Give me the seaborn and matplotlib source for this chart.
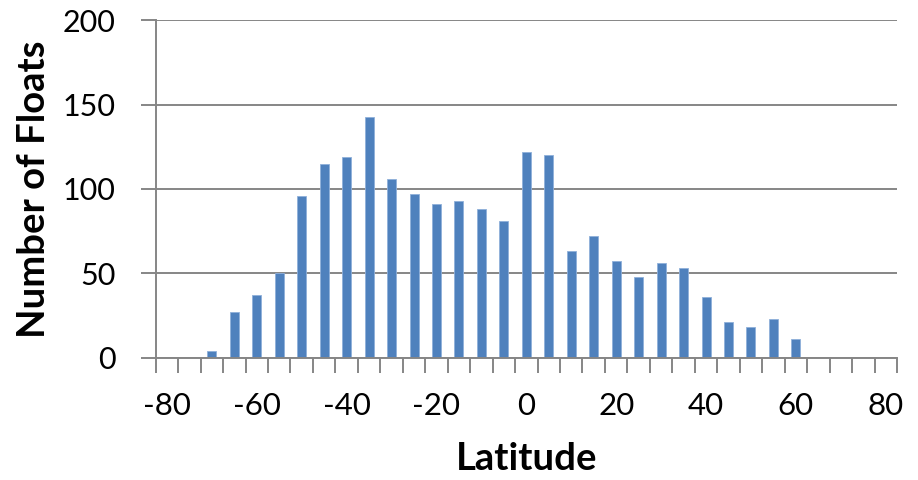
import matplotlib
matplotlib.use("Agg")
import matplotlib.pyplot as plt
import seaborn as sns
import pandas as pd

# Data
latitudes = [-80, -75, -70, -65, -60, -55, -50, -45, -40, -35, -30, -25, -20, -15, -10, -5,
             0, 5, 10, 15, 20, 25, 30, 35, 40, 45, 50, 55, 60, 65, 70, 75, 80]
counts = [0, 0, 4, 27, 37, 50, 96, 115, 119, 143, 106, 97, 91, 93, 88, 81,
          122, 120, 63, 72, 57, 48, 56, 53, 36, 21, 18, 23, 11, 0, 0, 0, 0]
shown_labels = [-80, -60, -40, -20, 0, 20, 40, 60, 80]
y_ticks = [0, 50, 100, 150, 200]

sns.set_theme(style="white")
plt.rcParams['font.family'] = ['Lato', 'DejaVu Sans']

df = pd.DataFrame({"Latitude": [str(v) for v in latitudes], "Count": counts})
order = [str(v) for v in latitudes]

fig = plt.figure(figsize=(9.18, 4.8), dpi=100)
ax = fig.add_axes([0.1696, 0.2552, 0.9771 - 0.1696, 0.9573 - 0.2552])

sns.barplot(data=df, x="Latitude", y="Count", order=order, color="#4F81BD",
            width=0.4, edgecolor="#8FB0DA", linewidth=0.6, saturation=1, ax=ax)

grey = "#868686"
ax.set_xlim(-0.5, len(latitudes) - 0.5)
ax.set_ylim(0, 200)
ax.set_yticks(y_ticks)
ax.set_yticklabels([str(v) for v in y_ticks])
ax.yaxis.grid(True, color=grey, linewidth=1.4)
ax.xaxis.grid(False)
ax.set_axisbelow(True)

major_pos = [order.index(str(v)) for v in shown_labels]
ax.set_xticks(major_pos)
ax.set_xticklabels([str(v) for v in shown_labels])
ax.set_xticks([i - 0.5 for i in range(len(latitudes) + 1)], minor=True)
ax.tick_params(axis="x", which="major", length=0, pad=25, labelsize=22.5, labelcolor="black")
ax.tick_params(axis="x", which="minor", length=11, width=1.4, color=grey, direction="out", bottom=True)
ax.tick_params(axis="y", which="major", length=11, width=1.4, color=grey, direction="out",
               pad=18, labelsize=22, labelcolor="black", left=True)

for s in ["top", "right"]:
    ax.spines[s].set_visible(False)
for s in ["left", "bottom"]:
    ax.spines[s].set_color(grey)
    ax.spines[s].set_linewidth(1.4)

ax.set_xlabel("Latitude", fontsize=27.5, fontweight="bold", labelpad=16, color="black")
ax.set_ylabel("Number of Floats", fontsize=27.5, fontweight="bold", labelpad=8, color="black")

fig.savefig("out.png", dpi=100)
